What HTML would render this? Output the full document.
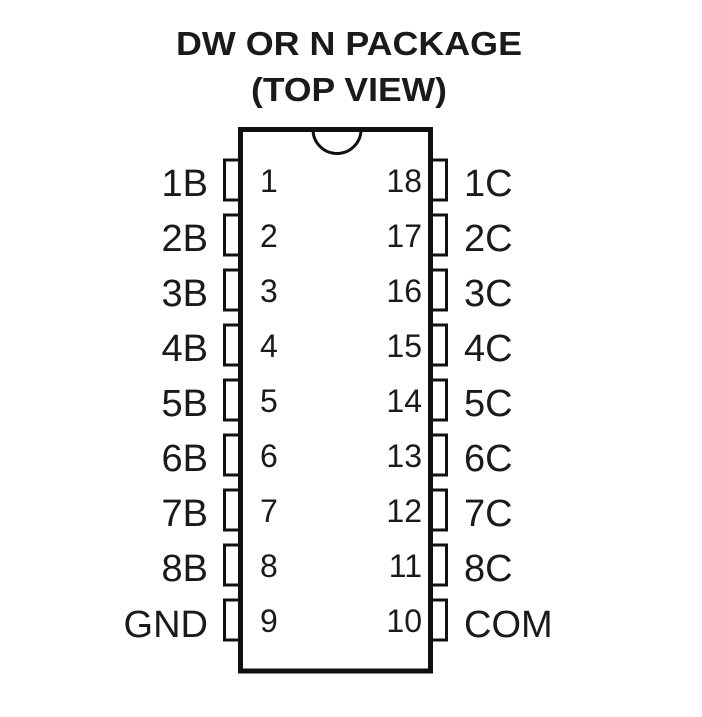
<!DOCTYPE html>
<html><head><style>html,body{margin:0;padding:0;background:#fff}</style></head>
<body>
<svg width="702" height="712" xmlns="http://www.w3.org/2000/svg" font-family="Liberation Sans, Arial, sans-serif" fill="#1a1a1a">
<text x="349" y="55" font-size="33" font-weight="bold" text-anchor="middle" textLength="346" lengthAdjust="spacingAndGlyphs">DW OR N PACKAGE</text>
<text x="349" y="101" font-size="33" font-weight="bold" text-anchor="middle" textLength="196" lengthAdjust="spacingAndGlyphs">(TOP VIEW)</text>
<path d="M240.5 129.5 H430.5 V671 H240.5 Z" fill="none" stroke="#111" stroke-width="5"/>
<path d="M313 129.5 A24 24 0 0 0 361 129.5" fill="none" stroke="#111" stroke-width="3"/>
<g fill="none" stroke="#111" stroke-width="3">
<path d="M238 160 H224.5 V200 H238"/><path d="M238 215 H224.5 V255 H238"/><path d="M238 270 H224.5 V310 H238"/>
<path d="M238 325 H224.5 V365 H238"/><path d="M238 380 H224.5 V420 H238"/><path d="M238 435 H224.5 V475 H238"/>
<path d="M238 490 H224.5 V530 H238"/><path d="M238 545 H224.5 V585 H238"/><path d="M238 600 H224.5 V640 H238"/>
<path d="M433 160 H446.5 V200 H433"/><path d="M433 215 H446.5 V255 H433"/><path d="M433 270 H446.5 V310 H433"/>
<path d="M433 325 H446.5 V365 H433"/><path d="M433 380 H446.5 V420 H433"/><path d="M433 435 H446.5 V475 H433"/>
<path d="M433 490 H446.5 V530 H433"/><path d="M433 545 H446.5 V585 H433"/><path d="M433 600 H446.5 V640 H433"/>
</g>
<g font-size="38" text-anchor="end">
<text x="208" y="196">1B</text><text x="208" y="251">2B</text><text x="208" y="306">3B</text>
<text x="208" y="361">4B</text><text x="208" y="416">5B</text><text x="208" y="471">6B</text>
<text x="208" y="526">7B</text><text x="208" y="581">8B</text><text x="208" y="637">GND</text>
</g>
<g font-size="38">
<text x="464" y="196">1C</text><text x="464" y="251">2C</text><text x="464" y="306">3C</text>
<text x="464" y="361">4C</text><text x="464" y="416">5C</text><text x="464" y="471">6C</text>
<text x="464" y="526">7C</text><text x="464" y="581">8C</text><text x="464" y="637">COM</text>
</g>
<g font-size="32">
<text x="260" y="192">1</text><text x="260" y="247">2</text><text x="260" y="302">3</text>
<text x="260" y="357">4</text><text x="260" y="412">5</text><text x="260" y="467">6</text>
<text x="260" y="522">7</text><text x="260" y="577">8</text><text x="260" y="632">9</text>
</g>
<g font-size="32" text-anchor="end">
<text x="422" y="192">18</text><text x="422" y="247">17</text><text x="422" y="302">16</text>
<text x="422" y="357">15</text><text x="422" y="412">14</text><text x="422" y="467">13</text>
<text x="422" y="522">12</text><text x="422" y="577">11</text><text x="422" y="632">10</text>
</g>
</svg>
</body></html>
